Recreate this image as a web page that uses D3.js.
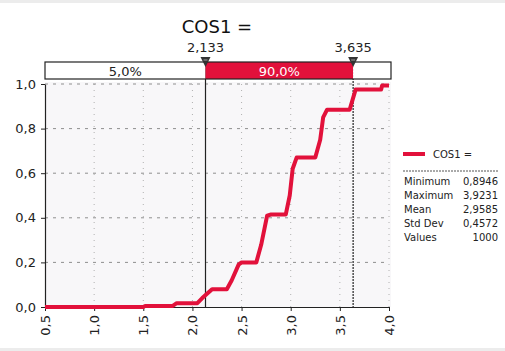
<!DOCTYPE html>
<html>
<head>
<meta charset="utf-8">
<script src="https://cdn.jsdelivr.net/npm/d3@7"></script>
<style>
  html, body { margin: 0; padding: 0; background: #fff; }
  svg { display: block; font-family: "DejaVu Sans", Verdana, sans-serif; }
</style>
</head>
<body>
<svg id="chart" width="505" height="351"></svg>
<script>
// Cumulative distribution of COS1 (value, cumulative probability)
const cdfX = [0.5, 1.5, 1.52, 1.8, 1.84, 2.05, 2.1, 2.2, 2.35, 2.4, 2.47, 2.5, 2.65, 2.7, 2.76, 2.8, 2.95, 2.99, 3.02, 3.06, 3.25, 3.3, 3.33, 3.37, 3.6, 3.63, 3.66, 3.92, 3.93, 4.0];
const cdfP = [0, 0, 0.005, 0.005, 0.017, 0.017, 0.04, 0.08, 0.08, 0.12, 0.19, 0.2, 0.2, 0.28, 0.41, 0.415, 0.415, 0.5, 0.62, 0.67, 0.67, 0.75, 0.85, 0.885, 0.885, 0.93, 0.975, 0.975, 0.993, 0.993];

const xTicks = [0.5, 1.0, 1.5, 2.0, 2.5, 3.0, 3.5, 4.0];
const yTicks = [0.0, 0.2, 0.4, 0.6, 0.8, 1.0];

// Delimiters and the share of values in each band
const limits = [2.133, 3.635];
const bandLabels = ["5,0%", "90,0%", ""];

const seriesName = "COS1 =";
const statNames = ["Minimum", "Maximum", "Mean", "Std Dev", "Values"];
const statValues = ["0,8946", "3,9231", "2,9585", "0,4572", "1000"];

const RED = "#e2113b";
const fmt1 = d => d3.format(".1f")(d).replace(".", ",");
const fmt3 = d => d3.format(".3f")(d).replace(".", ",");

const svg = d3.select("#chart");

// page frame lines
svg.append("rect").attr("x", 0).attr("y", 0).attr("width", 505).attr("height", 3).attr("fill", "#ececec");
svg.append("rect").attr("x", 0).attr("y", 348).attr("width", 505).attr("height", 3).attr("fill", "#ececec");

const pLeft = 45, pRight = 389, pTop = 84, pBottom = 307;
const x = d3.scaleLinear().domain([0.5, 4.0]).range([pLeft, pRight]);
const y = d3.scaleLinear().domain([0, 1]).range([pBottom, pTop]);

// plot background
svg.append("rect").attr("x", pLeft).attr("y", pTop - 2).attr("width", pRight - pLeft + 2).attr("height", pBottom - pTop + 2).attr("fill", "#f8f7f9");

// grid
const grid = svg.append("g");
grid.selectAll("line.v").data(xTicks.slice(1)).join("line")
  .attr("x1", d => x(d)).attr("x2", d => x(d)).attr("y1", pTop).attr("y2", pBottom)
  .attr("stroke", "#b0b0b0").attr("stroke-width", 1).attr("stroke-dasharray", "1,5");
grid.selectAll("line.h").data(yTicks.slice(1)).join("line")
  .attr("x1", pLeft).attr("x2", pRight).attr("y1", d => y(d)).attr("y2", d => y(d))
  .attr("stroke", "#8f8f8f").attr("stroke-width", 1).attr("stroke-dasharray", "3,5");

// axes
const yAxis = svg.append("g").attr("transform", `translate(${pLeft},0)`)
  .call(d3.axisLeft(y).tickValues(yTicks).tickFormat(fmt1).tickSize(4).tickSizeOuter(0));
yAxis.select(".domain").attr("stroke", "#222").attr("stroke-width", 1.2);
yAxis.selectAll(".tick line").attr("stroke", "#222");
yAxis.selectAll("text").attr("font-size", 13).attr("fill", "#222").attr("font-family", "DejaVu Sans, Verdana, sans-serif").attr("dx", "-2");

const xAxis = svg.append("g").attr("transform", `translate(0,${pBottom})`)
  .call(d3.axisBottom(x).tickValues(xTicks).tickFormat(fmt1).tickSize(4).tickSizeOuter(0));
xAxis.select(".domain").attr("stroke", "#222").attr("stroke-width", 1.2);
xAxis.selectAll(".tick line").attr("stroke", "#222");
xAxis.selectAll("text")
  .attr("font-size", 13).attr("fill", "#222").attr("font-family", "DejaVu Sans, Verdana, sans-serif")
  .attr("transform", "rotate(-90)").attr("text-anchor", "end")
  .attr("x", -8).attr("y", 0).attr("dy", "0.35em");

// delimiter lines
svg.append("line").attr("x1", x(limits[0])).attr("x2", x(limits[0])).attr("y1", 66).attr("y2", pBottom)
  .attr("stroke", "#222").attr("stroke-width", 1.2);
svg.append("line").attr("x1", x(limits[1])).attr("x2", x(limits[1])).attr("y1", 66).attr("y2", pBottom)
  .attr("stroke", "#222").attr("stroke-width", 1.2).attr("stroke-dasharray", "2,1");

// CDF curve
const pts = cdfX.map((v, i) => [v, cdfP[i]]);
svg.append("path").datum(pts)
  .attr("d", d3.line().x(d => x(d[0])).y(d => y(d[1])))
  .attr("fill", "none").attr("stroke", RED).attr("stroke-width", 4).attr("stroke-linejoin", "round");

// band bar above the plot
const barTop = 62, barH = 17, barRight = 391;
const edges = [pLeft, x(limits[0]), x(limits[1]), barRight];
const bands = bandLabels.map((t, i) => ({ t, x0: edges[i], x1: edges[i + 1], fill: i === 1 ? RED : "#fff", color: i === 1 ? "#fff" : "#222" }));
svg.selectAll("rect.band").data(bands).join("rect")
  .attr("x", d => d.x0).attr("y", barTop).attr("width", d => d.x1 - d.x0).attr("height", barH)
  .attr("fill", d => d.fill);
svg.append("rect").attr("x", pLeft).attr("y", barTop).attr("width", barRight - pLeft).attr("height", barH)
  .attr("fill", "none").attr("stroke", "#222").attr("stroke-width", 1.2);
svg.selectAll("text.band").data(bands).join("text")
  .attr("x", d => (d.x0 + d.x1) / 2).attr("y", barTop + 13.5)
  .attr("text-anchor", "middle").attr("font-size", 13).attr("fill", d => d.color)
  .text(d => d.t);

// delimiter markers and values
limits.forEach(v => {
  const cx = x(v);
  svg.append("path").attr("d", `M${cx - 5},57 L${cx + 5},57 L${cx},67 Z`).attr("fill", "#333");
  svg.append("line").attr("x1", cx - 2).attr("x2", cx + 2).attr("y1", 60).attr("y2", 60).attr("stroke", "#bbb").attr("stroke-width", 0.8);
  svg.append("text").attr("x", cx).attr("y", 52).attr("text-anchor", "middle")
    .attr("font-size", 13).attr("fill", "#222").text(fmt3(v));
});

// title
svg.append("text").attr("x", 217).attr("y", 33).attr("text-anchor", "middle")
  .attr("font-size", 18).attr("fill", "#111").text(seriesName);

// legend
const lg = svg.append("g");
lg.append("line").attr("x1", 403).attr("x2", 425).attr("y1", 154).attr("y2", 154).attr("stroke", RED).attr("stroke-width", 4);
lg.append("text").attr("x", 433).attr("y", 158).attr("font-size", 10).attr("fill", "#222").text(seriesName);
lg.append("line").attr("x1", 403).attr("x2", 499).attr("y1", 171).attr("y2", 171)
  .attr("stroke", "#555").attr("stroke-width", 1).attr("stroke-dasharray", "2,1");
statNames.forEach((n, i) => {
  lg.append("text").attr("x", 404).attr("y", 185 + i * 14).attr("font-size", 10).attr("fill", "#222").text(n);
  lg.append("text").attr("x", 498).attr("y", 185 + i * 14).attr("font-size", 10).attr("fill", "#222")
    .attr("text-anchor", "end").text(statValues[i]);
});
</script>
</body>
</html>
